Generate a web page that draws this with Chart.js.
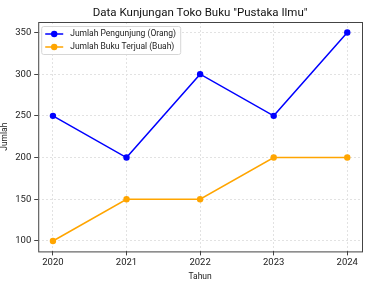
<!DOCTYPE html>
<html>
<head>
<meta charset="utf-8">
<script src="https://cdn.jsdelivr.net/npm/chart.js@4.4.1/dist/chart.umd.min.js"></script>
<style>
    html, body { margin: 0; padding: 0; background: #fff; }
    #wrap { width: 388px; height: 287px; }
</style>
</head>
<body>
<div id="wrap"><canvas id="chart" width="388" height="287"></canvas></div>
<script>
// Data
const years = [2020, 2021, 2022, 2023, 2024];
const pengunjung = [250, 200, 300, 250, 350];
const bukuTerjual = [100, 150, 150, 200, 200];
const yTicks = [100, 150, 200, 250, 300, 350];
const chartTitle = 'Data Kunjungan Toko Buku "Pustaka Ilmu"';

const FONT = 'Roboto, "DejaVu Sans", sans-serif';

// title centred over the plot, frame + legend inside the plot
const framePlugin = {
    id: 'frame',
    afterDraw(chart) {
        const { ctx, chartArea: a } = chart;
        ctx.save();
        ctx.fillStyle = '#111';
        ctx.font = '11.5px ' + FONT;
        ctx.textAlign = 'center';
        ctx.textBaseline = 'middle';
        ctx.fillText(chartTitle, (a.left + a.right) / 2, 13);

        ctx.strokeStyle = '#444';
        ctx.lineWidth = 1;
        ctx.strokeRect(a.left + 0.5, a.top + 0.5, a.right - a.left, a.bottom - a.top);

        // legend box
        const x = a.left + 3, y = a.top + 4, w = 139, h = 28;
        ctx.fillStyle = 'rgba(255,255,255,0.85)';
        ctx.strokeStyle = '#d6d6d6';
        ctx.beginPath();
        ctx.roundRect(x + 0.5, y + 0.5, w, h, 2);
        ctx.fill();
        ctx.stroke();

        ctx.font = '8.5px ' + FONT;
        ctx.textAlign = 'left';
        chart.data.datasets.forEach((ds, i) => {
            const cy = y + 8 + i * 13;
            ctx.strokeStyle = ds.borderColor;
            ctx.lineWidth = 1.5;
            ctx.beginPath();
            ctx.moveTo(x + 4, cy);
            ctx.lineTo(x + 22, cy);
            ctx.stroke();
            ctx.fillStyle = ds.borderColor;
            ctx.beginPath();
            ctx.arc(x + 13, cy, 3.2, 0, Math.PI * 2);
            ctx.fill();
            ctx.fillStyle = '#222';
            ctx.fillText(ds.label, x + 29, cy);
        });
        ctx.restore();
    }
};

new Chart(document.getElementById('chart'), {
    type: 'line',
    data: {
        datasets: [
            {
                label: 'Jumlah Pengunjung (Orang)',
                data: years.map((yr, i) => ({ x: yr, y: pengunjung[i] })),
                borderColor: '#0000ff',
                backgroundColor: '#0000ff',
                borderWidth: 1.5,
                pointRadius: 3.2,
                pointBorderWidth: 0,
                tension: 0
            },
            {
                label: 'Jumlah Buku Terjual (Buah)',
                data: years.map((yr, i) => ({ x: yr, y: bukuTerjual[i] })),
                borderColor: '#ffa500',
                backgroundColor: '#ffa500',
                borderWidth: 1.5,
                pointRadius: 3.2,
                pointBorderWidth: 0,
                tension: 0
            }
        ]
    },
    options: {
        responsive: false,
        animation: false,
        layout: { padding: { left: 0, right: 26, top: 22, bottom: 5 } },
        plugins: {
            legend: { display: false },
            tooltip: { enabled: false },
            title: { display: false }
        },
        scales: {
            x: {
                type: 'linear',
                min: 2019.8,
                max: 2024.2,
                afterBuildTicks: (s) => { s.ticks = years.map(v => ({ value: v })); },
                ticks: {
                    color: '#222',
                    font: { family: FONT, size: 9.5 },
                    padding: 2,
                    maxRotation: 0,
                    callback: (v) => String(v)
                },
                grid: { color: '#e2e2e2', tickColor: '#444', tickLength: 4 },
                border: { display: false, dash: [2, 2] },
                title: {
                    display: true,
                    text: 'Tahun',
                    color: '#222',
                    font: { family: FONT, size: 8.5 },
                    padding: { top: 1, bottom: 0 }
                }
            },
            y: {
                min: 87.5,
                max: 362.5,
                afterBuildTicks: (s) => { s.ticks = yTicks.map(v => ({ value: v })); },
                ticks: {
                    color: '#222',
                    font: { family: FONT, size: 9.5 },
                    padding: 3
                },
                grid: { color: '#e2e2e2', tickColor: '#444', tickLength: 4 },
                border: { display: false, dash: [2, 2] },
                title: {
                    display: true,
                    text: 'Jumlah',
                    color: '#222',
                    font: { family: FONT, size: 8.5 },
                    padding: { top: 0, bottom: 2 }
                }
            }
        }
    },
    plugins: [framePlugin]
});
</script>
</body>
</html>
